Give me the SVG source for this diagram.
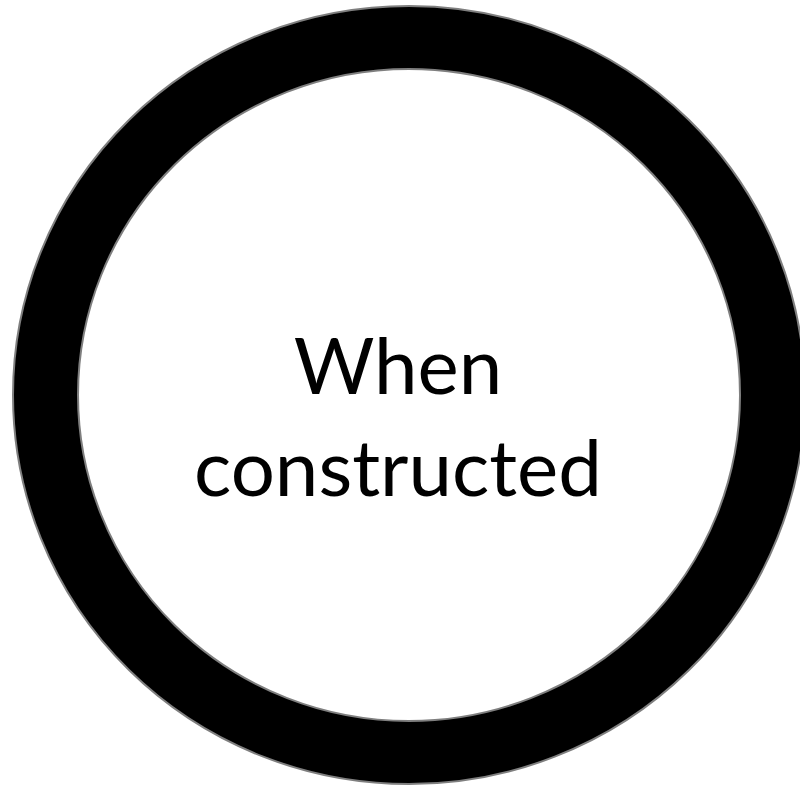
<svg xmlns="http://www.w3.org/2000/svg" width="800" height="786" viewBox="0 0 800 786">
<style>
.ring-out{fill:#000;stroke:#7f7f7f;stroke-width:2}
.ring-in{fill:#fff;stroke:#7f7f7f;stroke-width:2}
.lbl{font-family:Lato,"Open Sans","Liberation Sans",sans-serif;font-size:78px;fill:#000;text-anchor:middle}
</style>
<rect width="800" height="786" fill="#fff"/>
<g id="node-when-constructed">
<ellipse class="ring-out" cx="409" cy="395" rx="396" ry="389"/>
<ellipse class="ring-in" cx="409" cy="395" rx="331" ry="326"/>
<text class="lbl" x="398" y="394">When</text>
<text class="lbl" x="398" y="496">constructed</text>
</g>
<g id="connectors"/>
</svg>
